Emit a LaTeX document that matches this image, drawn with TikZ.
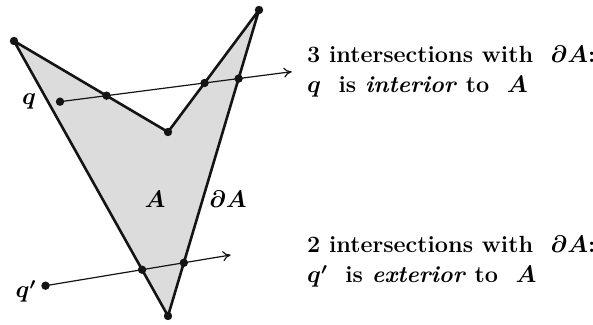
\documentclass[tikz,border=0pt]{standalone}
\usepackage{tikz}
\usetikzlibrary{arrows.meta,calc}
\definecolor{shade}{HTML}{DCDCDC}
\definecolor{ink}{HTML}{141414}

\begin{document}
\begin{tikzpicture}[x=0.5pt, y=-0.5pt, >={Computer Modern Rightarrow[length=4pt, width=5pt]}]
  \tikzset{
    dot/.style={fill=ink, circle, inner sep=0pt, minimum size=4.2pt},
    ray/.style={ink, line width=0.6pt, ->},
    info/.style={inner sep=0pt, anchor=base west, font=\fontsize{11.7}{15}\selectfont\bfseries\boldmath},
    mark label/.style={inner sep=0pt, anchor=base, font=\fontsize{12}{15}\selectfont\boldmath}
  }
  \useasboundingbox (0,0) rectangle (593,325);

  % corners of the region A
  \coordinate (tl) at (14,41);
  \coordinate (notch) at (168,132);
  \coordinate (tr) at (259,10);
  \coordinate (bot) at (168,316);

  % the two test points and where their rays stop
  \coordinate (q) at (60,101.7);
  \coordinate (qend) at (291.7,71.7);
  \coordinate (qq) at (45.5,285.7);
  \coordinate (qqend) at (230.7,255);

  \filldraw[fill=shade, draw=ink, line width=1.3pt, line join=round] (tl) -- (notch) -- (tr) -- (bot) -- cycle;

  \draw[ray] (q) -- (qend);
  \draw[ray] (qq) -- (qqend);

  % crossings with the boundary
  \coordinate (x1) at (intersection of q--qend and tl--notch);
  \coordinate (x2) at (intersection of q--qend and notch--tr);
  \coordinate (x3) at (intersection of q--qend and tr--bot);
  \coordinate (x4) at (intersection of qq--qqend and tl--bot);
  \coordinate (x5) at (intersection of qq--qqend and tr--bot);

  \foreach \p in {tl,notch,tr,bot,q,qq,x1,x2,x3,x4,x5}
    \node[dot] at (\p) {};

  \node[mark label] (qlab) at (29,105) {$q$};
  \node[mark label] (qqlab) at (26,298) {$q'$};
  \node[mark label] (alab) at (155,208) {$A$};
  \node[mark label] (dalab) at (228,208) {$\partial A$};

  \node[info] (inside1) at (306.7,63) {3 intersections with\ \ $\partial A$:};
  \node[info] (inside2) at (306.7,93) {$q$\ \ is \textit{interior} to\ \ $A$};
  \node[info] (outside1) at (306.7,253) {2 intersections with\ \ $\partial A$:};
  \node[info] (outside2) at (306.7,283) {$q'$\ \ is \textit{exterior} to\ \ $A$};
\end{tikzpicture}
\end{document}
